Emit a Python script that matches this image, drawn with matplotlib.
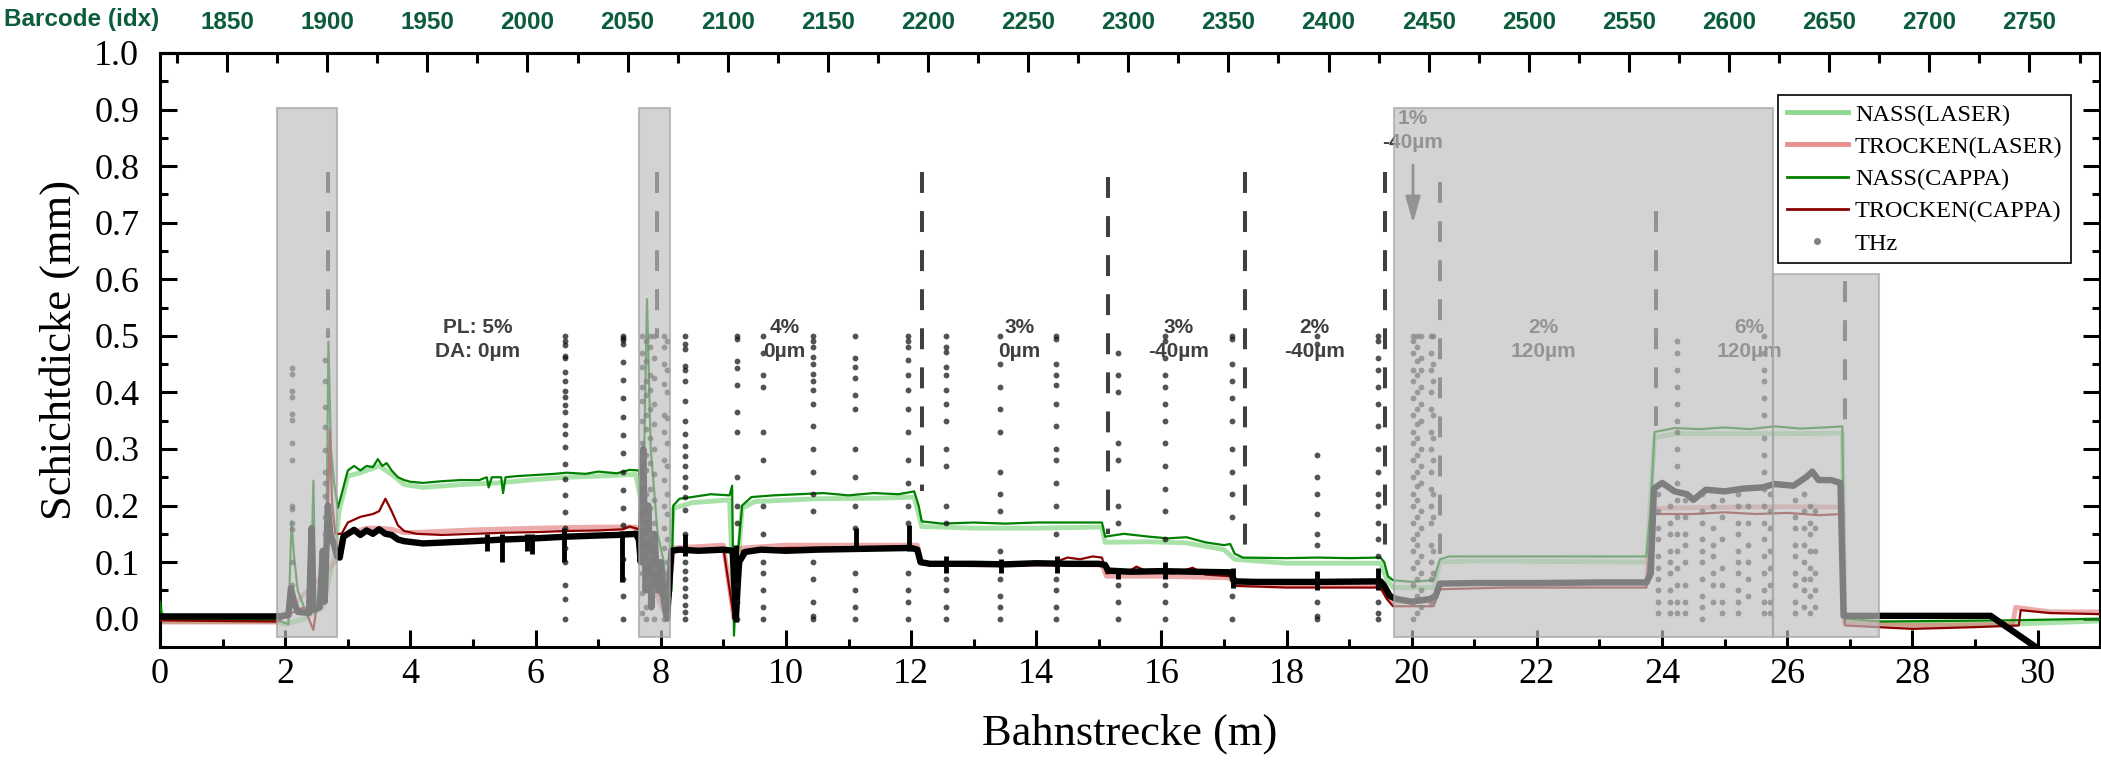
import matplotlib
matplotlib.use("Agg")
import matplotlib.pyplot as plt
from matplotlib.lines import Line2D
from matplotlib.patches import Rectangle
from matplotlib.ticker import MultipleLocator, FormatStrFormatter

plt.rcParams['font.family'] = ['Liberation Serif', 'DejaVu Serif']

# ------------------------------------------------------------
# Daten
# ------------------------------------------------------------
thz_x = [0, 1.87, 2.05, 2.09, 2.14, 2.2, 2.38, 2.42, 2.45, 2.55, 2.6, 2.63, 2.68, 2.72, 2.78, 2.83,
         2.87, 2.93, 3.0, 3.1, 3.2, 3.3, 3.4, 3.5, 3.6, 3.7, 3.8, 3.9, 4.2, 4.6, 5.0, 5.5, 6.0, 6.5,
         7.0, 7.3, 7.6, 7.65, 7.68, 7.72, 7.76, 7.8, 7.85, 7.9, 7.95, 8.0, 8.05, 8.1, 8.13, 8.17,
         8.3, 8.6, 9.0, 9.15, 9.2, 9.25, 9.35, 9.6, 10.0, 10.5, 11.0, 11.5, 12.0, 12.1, 12.15, 12.3,
         13.0, 13.5, 14.0, 14.5, 15.0, 15.1, 15.15, 15.5, 16.0, 16.5, 17.1, 17.17, 17.5, 18.5, 19.5,
         19.55, 19.65, 19.75, 20.0, 20.3, 20.38, 20.45, 21.0, 22.0, 23.0, 23.75, 23.82, 23.87, 24.0,
         24.2, 24.4, 24.5, 24.7, 25.0, 25.3, 25.6, 25.8, 26.1, 26.3, 26.4, 26.5, 26.7, 26.85, 26.9,
         29.25, 30.1]
thz_y = [0.004, 0.004, 0.006, 0.054, 0.03, 0.012, 0.01, 0.16, 0.015, 0.02, 0.12, 0.03, 0.2, 0.15, 0.13, 0.11,
         0.108, 0.145, 0.15, 0.157, 0.148, 0.156, 0.15, 0.158, 0.15, 0.148, 0.14, 0.137, 0.133, 0.135, 0.137, 0.14, 0.142, 0.145,
         0.147, 0.148, 0.15, 0.14, 0.1, 0.3, 0.05, 0.2, 0.02, 0.15, 0.05, 0.1, 0.03, 0.0, 0.05, 0.12,
         0.122, 0.12, 0.122, 0.12, 0.0, 0.1, 0.118, 0.122, 0.12, 0.122, 0.123, 0.124, 0.125, 0.122, 0.1, 0.097,
         0.097, 0.096, 0.098, 0.097, 0.097, 0.095, 0.085, 0.083, 0.084, 0.083, 0.082, 0.066, 0.065, 0.065, 0.066,
         0.06, 0.04, 0.035, 0.03, 0.035, 0.04, 0.062, 0.063, 0.063, 0.064, 0.064, 0.08, 0.23, 0.24,
         0.225, 0.22, 0.21, 0.228, 0.225, 0.23, 0.232, 0.238, 0.235, 0.25, 0.26, 0.245, 0.245, 0.24, 0.005,
         0.005, -0.06]

# kurze senkrechte THz-Ausreisser (x, von, bis)
spike_x = [5.23, 5.47, 5.87, 5.95, 6.45, 7.38, 8.39, 9.2, 11.12, 11.96, 12.56, 13.44, 14.33, 15.31, 16.06, 17.14, 18.49, 19.46]
spike_lo = [0.12, 0.1, 0.12, 0.115, 0.1, 0.065, 0.11, -0.005, 0.12, 0.12, 0.08, 0.08, 0.08, 0.07, 0.07, 0.055, 0.05, 0.05]
spike_hi = [0.15, 0.15, 0.15, 0.15, 0.16, 0.155, 0.15, 0.13, 0.16, 0.165, 0.11, 0.105, 0.11, 0.09, 0.1, 0.09, 0.085, 0.09]

# THz-Punktsaeulen
col_x = [2.1, 2.64, 6.47, 7.39, 7.7, 7.76, 7.83, 7.9, 8.05, 8.1, 8.39, 9.22, 9.64, 10.43, 11.11, 11.95,
         12.55, 13.42, 14.31, 15.3, 16.05, 17.13, 18.49, 19.46, 20.02, 20.08, 20.14, 20.3, 20.34,
         23.94, 24.12, 24.24, 24.36, 24.63, 24.81, 24.95, 25.21, 25.37, 25.63, 25.72, 26.12, 26.26, 26.36, 26.44]
col_y = [
    [0.443, 0.433, 0.402, 0.392, 0.362, 0.352, 0.311, 0.281, 0.2, 0.193, 0.169, 0.159, 0.1, 0.06],
    [0.457, 0.42, 0.375, 0.338, 0.298, 0.26, 0.24, 0.217, 0.18, 0.15],
    [0.5, 0.49, 0.483, 0.465, 0.46, 0.436, 0.421, 0.403, 0.392, 0.377, 0.365, 0.342, 0.327, 0.303, 0.274, 0.247, 0.218, 0.189, 0.16, 0.125, 0.1, 0.06, 0.035, 0.0],
    [0.5, 0.497, 0.492, 0.486, 0.453, 0.422, 0.39, 0.357, 0.325, 0.292, 0.26, 0.227, 0.195, 0.165, 0.105, 0.07, 0.04, 0.0],
    [0.5, 0.47, 0.445, 0.41, 0.385, 0.35, 0.31, 0.285, 0.24, 0.2, 0.165, 0.12, 0.08, 0.045, 0.01],
    [0.49, 0.455, 0.42, 0.395, 0.36, 0.335, 0.29, 0.262, 0.22, 0.18, 0.145, 0.1, 0.065, 0.02, 0.0],
    [0.5, 0.48, 0.43, 0.405, 0.37, 0.32, 0.275, 0.23, 0.195, 0.15, 0.11, 0.07, 0.03],
    [0.5, 0.46, 0.425, 0.38, 0.345, 0.3, 0.255, 0.21, 0.17, 0.135, 0.09, 0.05, 0.0],
    [0.5, 0.48, 0.45, 0.415, 0.36, 0.33, 0.28, 0.245, 0.2, 0.16, 0.125, 0.08, 0.03, 0.0],
    [0.49, 0.44, 0.4, 0.355, 0.31, 0.27, 0.22, 0.185, 0.14, 0.1, 0.05, 0.01],
    [0.5, 0.485, 0.476, 0.446, 0.44, 0.42, 0.385, 0.35, 0.326, 0.305, 0.288, 0.27, 0.25, 0.232, 0.215, 0.192, 0.15, 0.1, 0.085, 0.07, 0.055, 0.04, 0.025, 0.012, 0.0],
    [0.5, 0.495, 0.455, 0.444, 0.413, 0.366, 0.33, 0.25, 0.2, 0.17, 0.06, 0.03, 0.0],
    [0.5, 0.47, 0.43, 0.41, 0.33, 0.28, 0.2, 0.15, 0.1, 0.08, 0.05, 0.02, 0.0],
    [0.5, 0.49, 0.48, 0.462, 0.45, 0.433, 0.42, 0.405, 0.38, 0.34, 0.3, 0.26, 0.22, 0.19, 0.1, 0.07, 0.03, 0.005, 0.0],
    [0.5, 0.46, 0.445, 0.425, 0.395, 0.37, 0.3, 0.25, 0.2, 0.16, 0.08, 0.05, 0.02, 0.0],
    [0.5, 0.49, 0.48, 0.458, 0.43, 0.405, 0.37, 0.33, 0.28, 0.24, 0.2, 0.17, 0.08, 0.05, 0.03, 0.0],
    [0.5, 0.48, 0.472, 0.445, 0.43, 0.405, 0.38, 0.35, 0.3, 0.27, 0.2, 0.17, 0.07, 0.05, 0.02, 0.0],
    [0.5, 0.45, 0.41, 0.37, 0.33, 0.26, 0.22, 0.19, 0.12, 0.07, 0.04, 0.02, 0.0],
    [0.5, 0.495, 0.45, 0.43, 0.413, 0.38, 0.34, 0.3, 0.28, 0.24, 0.2, 0.15, 0.07, 0.05, 0.02, 0.0],
    [0.47, 0.43, 0.4, 0.31, 0.28, 0.2, 0.17, 0.06, 0.03, 0.0],
    [0.5, 0.49, 0.46, 0.43, 0.41, 0.38, 0.35, 0.31, 0.27, 0.23, 0.19, 0.14, 0.06, 0.03, 0.0],
    [0.5, 0.495, 0.45, 0.42, 0.39, 0.35, 0.3, 0.26, 0.22, 0.18, 0.07, 0.04, 0.0],
    [0.5, 0.485, 0.29, 0.25, 0.22, 0.185, 0.15, 0.13, 0.07, 0.03, 0.005, 0.0],
    [0.5, 0.49, 0.46, 0.44, 0.41, 0.38, 0.34, 0.3, 0.26, 0.22, 0.2, 0.17, 0.14, 0.11, 0.06, 0.03, 0.01, 0.0],
    [0.5, 0.49, 0.47, 0.44, 0.42, 0.39, 0.36, 0.33, 0.31, 0.28, 0.25, 0.22, 0.2, 0.17, 0.14, 0.12, 0.09, 0.06, 0.03, 0.0],
    [0.5, 0.48, 0.455, 0.43, 0.4, 0.37, 0.345, 0.32, 0.29, 0.26, 0.235, 0.21, 0.18, 0.15, 0.13, 0.1, 0.07, 0.04, 0.01],
    [0.5, 0.46, 0.44, 0.41, 0.38, 0.35, 0.3, 0.27, 0.24, 0.19, 0.16, 0.11, 0.08, 0.05, 0.02],
    [0.5, 0.47, 0.44, 0.4, 0.37, 0.33, 0.3, 0.26, 0.23, 0.2, 0.17, 0.13, 0.1, 0.07, 0.03],
    [0.5, 0.45, 0.42, 0.36, 0.32, 0.28, 0.22, 0.18, 0.12, 0.08, 0.04],
    [0.22, 0.19, 0.16, 0.14, 0.11, 0.09, 0.07, 0.05, 0.03, 0.01],
    [0.2, 0.17, 0.15, 0.12, 0.1, 0.08, 0.05, 0.03, 0.01],
    [0.49, 0.47, 0.44, 0.41, 0.38, 0.35, 0.33, 0.3, 0.27, 0.24, 0.21, 0.18, 0.15, 0.12, 0.09, 0.06, 0.03, 0.01],
    [0.21, 0.18, 0.15, 0.13, 0.1, 0.06, 0.03, 0.01],
    [0.22, 0.19, 0.17, 0.14, 0.12, 0.1, 0.07, 0.04, 0.02, 0.0],
    [0.2, 0.16, 0.13, 0.11, 0.08, 0.06, 0.03],
    [0.21, 0.18, 0.14, 0.09, 0.06, 0.03, 0.01],
    [0.22, 0.2, 0.17, 0.15, 0.12, 0.1, 0.08, 0.05, 0.03, 0.01],
    [0.2, 0.17, 0.13, 0.1, 0.07, 0.04],
    [0.5, 0.47, 0.44, 0.42, 0.39, 0.36, 0.32, 0.29, 0.26, 0.23, 0.2, 0.17, 0.14, 0.11, 0.08, 0.05, 0.03, 0.01],
    [0.22, 0.19, 0.16, 0.12, 0.09, 0.06, 0.03, 0.01],
    [0.21, 0.18, 0.16, 0.13, 0.11, 0.08, 0.06, 0.03, 0.01],
    [0.22, 0.19, 0.16, 0.13, 0.1, 0.07, 0.05, 0.02],
    [0.2, 0.17, 0.15, 0.12, 0.09, 0.07, 0.04, 0.01],
    [0.19, 0.16, 0.12, 0.08, 0.05, 0.02],
]

nass_cappa_x = [0, 0.03, 1.0, 1.87, 2.05, 2.1, 2.14, 2.2, 2.3, 2.4, 2.45, 2.48, 2.6, 2.65, 2.69, 2.73, 2.78, 2.84,
                2.9, 3.0, 3.1, 3.2, 3.3, 3.4, 3.48, 3.55, 3.62, 3.7, 3.8, 3.9, 4.0, 4.2, 4.5, 4.8, 5.1, 5.22,
                5.25, 5.3, 5.45, 5.48, 5.52, 5.7, 6.0, 6.3, 6.5, 6.8, 7.0, 7.3, 7.5, 7.65, 7.72, 7.78, 7.84,
                7.95, 8.05, 8.12, 8.17, 8.2, 8.3, 8.5, 8.8, 9.1, 9.14, 9.17, 9.22, 9.3, 9.45, 9.8, 10.2, 10.6,
                11.0, 11.4, 11.8, 12.05, 12.12, 12.17, 12.5, 13.0, 13.5, 14.0, 14.5, 15.05, 15.1, 15.4, 15.8,
                16.1, 16.4, 16.7, 17.0, 17.1, 17.17, 17.3, 18.0, 18.5, 19.0, 19.5, 19.56, 19.62, 19.7, 20.0,
                20.35, 20.45, 20.6, 21.5, 22.5, 23.75, 23.82, 23.88, 24.2, 24.6, 25.0, 25.4, 25.8, 26.2, 26.6,
                26.88, 26.92, 27.5, 28.5, 29.5, 31.0]
nass_cappa_y = [0.03, 0.0, -0.002, -0.002, -0.01, 0.172, 0.11, 0.05, 0.02, 0.01, 0.244, 0.02, 0.03, 0.05, 0.49, 0.3, 0.24, 0.196,
                0.22, 0.262, 0.27, 0.262, 0.27, 0.268, 0.282, 0.27, 0.275, 0.262, 0.25, 0.245, 0.242, 0.24, 0.243, 0.245, 0.245, 0.25,
                0.232, 0.25, 0.25, 0.222, 0.25, 0.252, 0.254, 0.256, 0.258, 0.256, 0.26, 0.257, 0.263, 0.262, 0.2, 0.565, 0.3,
                0.15, 0.1, 0.02, 0.05, 0.2, 0.212, 0.215, 0.22, 0.218, 0.235, -0.03, 0.1, 0.2, 0.215, 0.218, 0.22, 0.222,
                0.218, 0.222, 0.22, 0.225, 0.2, 0.172, 0.168, 0.17, 0.168, 0.17, 0.17, 0.17, 0.145, 0.15, 0.145,
                0.142, 0.144, 0.135, 0.13, 0.132, 0.115, 0.108, 0.107, 0.108, 0.107, 0.108, 0.1, 0.075, 0.068, 0.065,
                0.068, 0.105, 0.11, 0.11, 0.11, 0.11, 0.2, 0.33, 0.337, 0.335, 0.338, 0.335, 0.34, 0.336, 0.338,
                0.34, 0.0, -0.005, -0.004, -0.003, 0.0]

nass_laser_x = [0, 0.05, 1.87, 2.0, 2.3, 2.6, 2.8, 2.86, 3.0, 3.2, 3.5, 3.7, 3.9, 4.2, 4.8, 5.4, 6.0, 6.5, 7.0, 7.6,
                7.7, 8.1, 8.2, 8.5, 9.1, 9.17, 9.3, 9.5, 10.5, 11.5, 12.05, 12.17, 13.0, 14.0, 15.05, 15.1, 15.8,
                16.4, 17.0, 17.17, 18.0, 19.5, 19.6, 19.7, 20.35, 20.45, 21.0, 23.75, 23.88, 24.2, 25.0, 26.0,
                26.88, 26.92, 28.0, 29.5, 31.0]
nass_laser_y = [0.02, -0.005, -0.005, -0.01, 0.0, 0.02, 0.12, 0.19, 0.252, 0.258, 0.27, 0.255, 0.237, 0.232, 0.237, 0.24, 0.246, 0.25, 0.252, 0.255,
                0.2, 0.02, 0.195, 0.205, 0.21, 0.0, 0.195, 0.207, 0.212, 0.213, 0.215, 0.163, 0.16, 0.16, 0.162, 0.135, 0.136,
                0.134, 0.122, 0.105, 0.098, 0.098, 0.07, 0.055, 0.055, 0.1, 0.102, 0.1, 0.32, 0.327, 0.327, 0.327,
                0.328, -0.005, -0.01, -0.01, -0.004]

trocken_cappa_x = [0, 1.87, 2.1, 2.3, 2.45, 2.5, 2.65, 2.71, 2.75, 2.8, 2.9, 3.0, 3.2, 3.4, 3.5, 3.6, 3.7, 3.8, 3.9,
                   4.1, 4.5, 5.0, 5.5, 6.0, 6.5, 7.0, 7.4, 7.5, 7.65, 7.7, 8.1, 8.2, 9.0, 9.17, 9.3, 10.0, 11.0,
                   12.1, 12.17, 13.0, 14.0, 14.3, 14.5, 14.7, 14.9, 15.05, 15.12, 15.5, 15.6, 15.8, 16.2, 16.5,
                   16.7, 17.1, 17.17, 18.0, 19.5, 19.6, 19.7, 20.35, 20.45, 21.5, 23.75, 23.85, 24.5, 25.0, 25.5,
                   26.0, 26.5, 26.88, 26.92, 28.0, 29.0, 29.7, 29.73, 30.2, 31.0]
trocken_cappa_y = [-0.003, -0.005, 0.01, 0.02, -0.02, 0.02, 0.03, 0.335, 0.2, 0.15, 0.15, 0.17, 0.18, 0.185, 0.19, 0.212, 0.19, 0.165, 0.155,
                   0.15, 0.148, 0.15, 0.152, 0.153, 0.155, 0.156, 0.158, 0.163, 0.158, 0.1, 0.02, 0.12, 0.125, 0.0, 0.12, 0.125, 0.126,
                   0.125, 0.097, 0.095, 0.095, 0.1, 0.108, 0.105, 0.11, 0.108, 0.08, 0.085, 0.092, 0.082, 0.08, 0.09,
                   0.078, 0.075, 0.058, 0.055, 0.055, 0.035, 0.022, 0.022, 0.052, 0.055, 0.055, 0.185, 0.185, 0.188, 0.185,
                   0.187, 0.183, 0.185, -0.012, -0.018, -0.015, -0.012, 0.015, 0.01, 0.008]

trocken_laser_x = [0, 1.87, 2.8, 2.9, 3.0, 3.3, 3.5, 3.7, 3.9, 4.2, 5.0, 6.0, 7.0, 7.6, 7.7, 8.1, 8.2, 9.0, 9.17, 9.3,
                   10.0, 11.0, 12.1, 12.17, 13.0, 14.0, 15.05, 15.12, 16.0, 17.1, 17.17, 19.5, 19.6, 19.7, 20.35,
                   20.45, 23.75, 23.85, 25.0, 26.0, 26.88, 26.92, 28.0, 29.6, 29.65, 30.2, 31.0]
trocken_laser_y = [-0.006, -0.006, 0.1, 0.14, 0.15, 0.16, 0.16, 0.158, 0.152, 0.153, 0.157, 0.16, 0.162, 0.162, 0.1, 0.0, 0.125, 0.13, 0.0, 0.125,
                   0.13, 0.13, 0.13, 0.098, 0.095, 0.096, 0.095, 0.075, 0.075, 0.072, 0.06, 0.058, 0.04, 0.03, 0.03,
                   0.062, 0.065, 0.195, 0.197, 0.198, 0.197, -0.008, -0.012, -0.01, 0.02, 0.012, 0.012]

# grau hinterlegte Bereiche (x0, x1, y0, y1)
shade_x0 = [1.87, 7.65, 19.72, 25.77]
shade_x1 = [2.83, 8.15, 25.77, 27.47]
shade_y0 = [-0.032, -0.032, -0.032, -0.032]
shade_y1 = [0.903, 0.903, 0.903, 0.61]

# senkrechte gestrichelte Linien
dash_x = [2.69, 7.94, 12.18, 15.15, 17.33, 19.57, 20.45, 23.9, 26.92]
dash_lo = [0.497, 0.497, 0.225, 0.15, 0.115, 0.1, 0.115, 0.34, 0.34]
dash_hi = [0.79, 0.79, 0.79, 0.78, 0.79, 0.79, 0.772, 0.72, 0.666]

# Beschriftungen der Abschnitte
label_x = [5.07, 9.98, 13.73, 16.27, 18.45, 20.02, 22.1, 25.4]
label_y = [0.494, 0.494, 0.494, 0.494, 0.494, 0.863, 0.494, 0.494]
label_txt = ["PL: 5%\nDA: 0µm", "4%\n0µm", "3%\n0µm", "3%\n-40µm", "2%\n-40µm", "1%\n-40µm", "2%\n120µm", "6%\n120µm"]

# obere Achse: Barcode-Index
barcode_ticks = list(range(1850, 2751, 50))
BARCODE_X0 = 1.07     # Position von Barcode 1850 in m
BARCODE_PER_M = 31.25

# ================================================================
# Plot
# ================================================================
fig = plt.figure(figsize=(21.01, 7.79), dpi=100)
ax = fig.add_axes([0.0762, 0.1695, 0.9234, 0.7625])

DARK = "#404040"

ax.plot(nass_laser_x, nass_laser_y, color="#6fcf6f", alpha=0.6, lw=3.5, zorder=2)
ax.plot(trocken_laser_x, trocken_laser_y, color="#e07272", alpha=0.6, lw=3.5, zorder=2)
ax.plot(nass_cappa_x, nass_cappa_y, color="#008000", lw=1.6, zorder=3)
ax.plot(trocken_cappa_x, trocken_cappa_y, color="#8b0000", lw=1.6, zorder=3)

ax.plot(thz_x, thz_y, color="black", lw=4.6, zorder=4, solid_joinstyle="round")
ax.vlines(spike_x, spike_lo, spike_hi, color="black", lw=3.5, zorder=4)
for cx, cys in zip(col_x, col_y):
    ax.plot([cx] * len(cys), cys, "o", ms=4.2, color="#101010", alpha=0.72, mec="none", zorder=4)

for dx, lo, hi in zip(dash_x, dash_lo, dash_hi):
    ax.plot([dx, dx], [hi, lo], color=DARK, lw=2.9, dashes=(5.2, 4.5), zorder=3)

for lx, ly, t in zip(label_x, label_y, label_txt):
    ax.text(lx, ly, t, ha="center", va="center", fontsize=15, fontweight="bold",
            family="Liberation Sans", color=DARK, linespacing=1.35, zorder=5)

ax.annotate("", xy=(20.02, 0.694), xytext=(20.02, 0.807),
            arrowprops=dict(arrowstyle="-|>,head_length=1.6,head_width=0.45", color=DARK, lw=2), zorder=5)

for x0, x1, y0, y1 in zip(shade_x0, shade_x1, shade_y0, shade_y1):
    ax.add_patch(Rectangle((x0, y0), x1 - x0, y1 - y0, facecolor="#bebebe", edgecolor="#a0a0a0",
                           lw=1.5, alpha=0.667, zorder=6))

ax.set_xlim(0, 31)
ax.set_ylim(-0.05, 1.0)

ax.xaxis.set_major_locator(MultipleLocator(2))
ax.xaxis.set_minor_locator(MultipleLocator(1))
ax.yaxis.set_major_locator(MultipleLocator(0.1))
ax.yaxis.set_minor_locator(MultipleLocator(0.05))
ax.yaxis.set_major_formatter(FormatStrFormatter("%.1f"))

ax.tick_params(which="both", direction="in", width=2.2, labelsize=26, top=False, right=True)
ax.tick_params(which="major", length=12)
ax.tick_params(which="minor", length=6)
ax.tick_params(axis="x", pad=8)
ax.tick_params(axis="y", pad=15)
for s in ax.spines.values():
    s.set_linewidth(2.2)

ax.set_xlabel("Bahnstrecke (m)", fontsize=32, labelpad=16)
ax.set_ylabel("Schichtdicke (mm)", fontsize=32, labelpad=10)

sec = ax.secondary_xaxis("top", functions=(lambda x: 1850 + (x - BARCODE_X0) * BARCODE_PER_M,
                                           lambda b: BARCODE_X0 + (b - 1850) / BARCODE_PER_M))
sec.set_xticks(barcode_ticks)
sec.xaxis.set_minor_locator(MultipleLocator(25))
sec.tick_params(which="both", direction="in", width=2.2, pad=14, labelcolor="#0a5c3a")
sec.tick_params(which="major", length=14)
sec.tick_params(which="minor", length=7)
for lab in sec.get_xticklabels():
    lab.set_fontfamily("Liberation Sans")
    lab.set_fontweight("bold")
    lab.set_fontsize(17.5)
sec.spines["top"].set_linewidth(2.2)
fig.text(0.002, 0.975, "Barcode (idx)", ha="left", va="center", fontsize=17.5, fontweight="bold",
         family="Liberation Sans", color="#0a5c3a")

handles = [
    Line2D([], [], color="#8fd88f", lw=3.5),
    Line2D([], [], color="#e89090", lw=3.5),
    Line2D([], [], color="#008000", lw=2),
    Line2D([], [], color="#8b0000", lw=2),
    Line2D([], [], color="#808080", marker="o", ms=4, ls="none"),
]
labels = ["NASS(LASER)", "TROCKEN(LASER)", "NASS(CAPPA)", "TROCKEN(CAPPA)", "THz"]
leg = ax.legend(handles, labels, loc="upper right", bbox_to_anchor=(0.985, 0.929), fontsize=17.5,
                frameon=True, fancybox=False, edgecolor="black", framealpha=1, handlelength=2.5,
                handletextpad=0.3, labelspacing=0.42, borderpad=0.35, borderaxespad=0)
leg.get_frame().set_linewidth(1.2)
leg.set_zorder(10)

fig.savefig("out.png", dpi=100)
